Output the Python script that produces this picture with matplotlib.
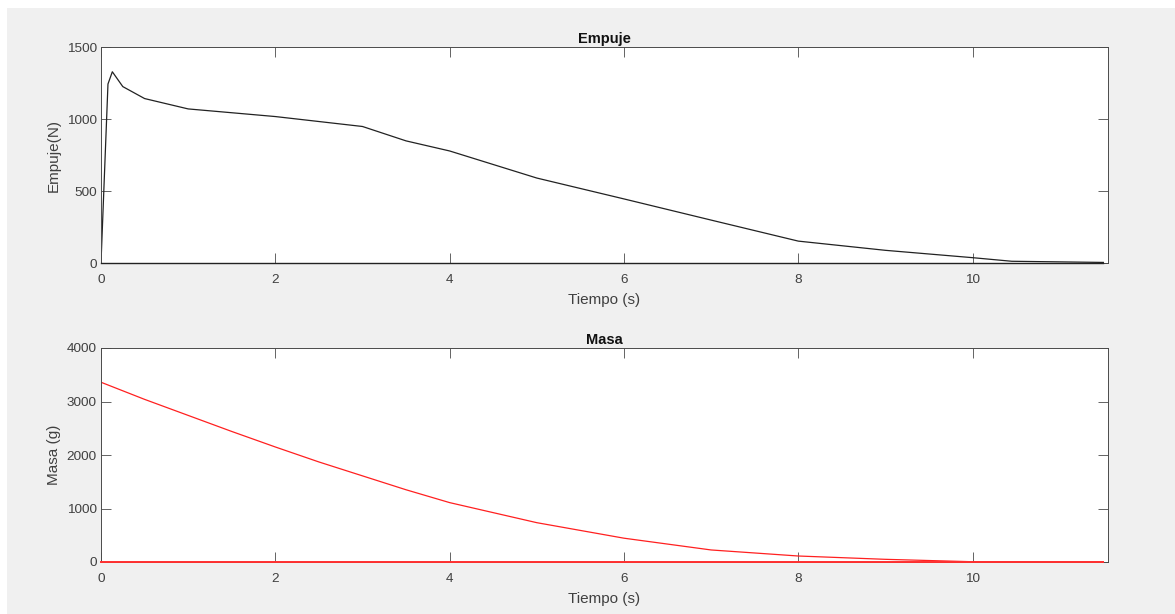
import matplotlib
matplotlib.use("Agg")
import matplotlib.pyplot as plt
from matplotlib.patches import Rectangle

plt.rcParams['font.family'] = ['Liberation Sans', 'DejaVu Sans']

# Thrust data (Empuje)
t_thrust = [0.0, 0.08, 0.13, 0.25, 0.5, 1.0, 2.0, 3.0, 3.5, 4.0, 5.0, 6.0, 7.0, 8.0, 9.0, 10.0, 10.45, 11.5]
thrust = [0, 1243, 1328, 1225, 1142, 1070, 1017, 948, 848, 778, 590, 445, 298, 152, 88, 37, 12, 4]
t_zero = [0.0, 11.5]
zero_line = [0, 0]

# Mass data (Masa)
t_mass = [0.0, 0.5, 1.0, 1.5, 2.0, 2.5, 3.0, 3.5, 4.0, 5.0, 6.0, 7.0, 8.0, 9.0, 10.0, 11.5]
mass = [3360, 3040, 2740, 2440, 2150, 1870, 1610, 1350, 1110, 735, 445, 225, 112, 50, 5, 0]

x_ticks = [0, 2, 4, 6, 8, 10]
y_ticks_top = [0, 500, 1000, 1500]
y_ticks_bot = [0, 1000, 2000, 3000, 4000]

fig = plt.figure(figsize=(11.75, 6.14), dpi=100, facecolor='white')
fig.patches.append(Rectangle((7/1175, 0), 1 - 7/1175, 1 - 8/614, transform=fig.transFigure,
                             facecolor='#F0F0F0', edgecolor='none', zorder=-10))

ax1 = fig.add_axes([101/1175, 1 - 263/614, (1107.7 - 101)/1175, (263 - 47)/614])
ax2 = fig.add_axes([101/1175, 1 - 562/614, (1107.7 - 101)/1175, (562 - 348)/614])

axc = '#4a4a4a'
txtc = '#404040'
for ax in (ax1, ax2):
    ax.set_facecolor('white')
    ax.set_xlim(0, 11.55)
    ax.set_xticks(x_ticks)
    ax.tick_params(direction='in', length=7, width=0.6, color=axc, labelcolor=txtc,
                   labelsize=9.7, top=True, right=True, pad=3)
    ax.tick_params(axis='x', pad=8)
    for s in ax.spines.values():
        s.set_color(axc)
        s.set_linewidth(0.7)
    ax.set_xlabel('Tiempo (s)', fontsize=11, color=txtc, labelpad=5)

ax1.plot(t_thrust, thrust, color='#222222', lw=0.9)
ax1.plot(t_zero, zero_line, color='#222222', lw=1.0, zorder=3, clip_on=False)
ax1.set_ylim(0, 1500)
ax1.set_yticks(y_ticks_top)
ax1.set_ylabel('Empuje(N)', fontsize=11, color=txtc, labelpad=4)
ax1.set_title('Empuje', fontsize=10.5, fontweight='bold', color='#111111', pad=3)

ax2.plot(t_mass, mass, color='#ff2020', lw=0.9)
ax2.plot(t_zero, zero_line, color='#ff3030', lw=1.4, zorder=3, clip_on=False)
ax2.set_ylim(0, 4000)
ax2.set_yticks(y_ticks_bot)
ax2.set_ylabel('Masa (g)', fontsize=11, color=txtc, labelpad=4)
ax2.set_title('Masa', fontsize=10.5, fontweight='bold', color='#111111', pad=3)

fig.savefig('out.png', dpi=100, facecolor=fig.get_facecolor())
